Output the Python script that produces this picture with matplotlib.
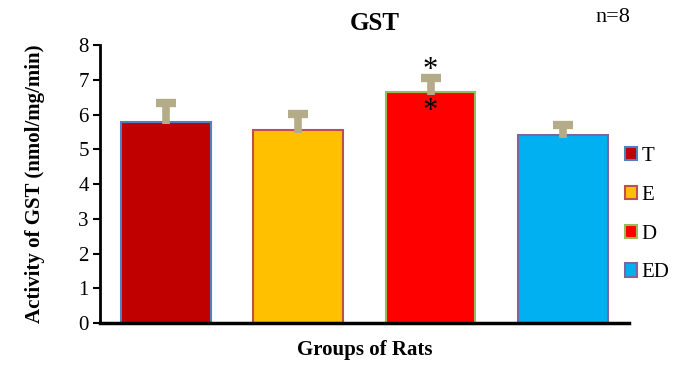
import numpy as np
import matplotlib.pyplot as plt

plt.rcParams['font.family'] = ['Liberation Serif', 'DejaVu Serif']

# GST activity per group (mean, upper SE)
groups = ['T', 'E', 'D', 'ED']
gst = [5.8, 5.55, 6.65, 5.4]
err = [0.53, 0.46, 0.40, 0.30]
fills = ['#C00000', '#FFC000', '#FF0000', '#00B0F0']
edges = ['#4F81BD', '#C0504D', '#9BBB59', '#8064A2']

fig = plt.figure(figsize=(6.85, 3.67), dpi=100)
ax = fig.add_axes([0.146, 0.12, 0.772, 0.757])

x = np.arange(len(groups))
tops = np.array(gst) + np.array(err)
bars = ax.bar(x, gst, width=0.68, color=fills, edgecolor=edges, linewidth=1.5,
              label=groups, zorder=2)
# upper error bars only
ax.vlines(x, np.array(gst) - 0.08, tops, colors='#B4AC88', linewidth=5.5, zorder=3)
ax.plot(x, tops, ls='none', marker='_', ms=14, mew=6, color='#B4AC88', zorder=3)

# significance marks on D
ax.text(x[2], tops[2] + 0.22, '*', ha='center', va='center', fontsize=22)
ax.text(x[2], gst[2] - 0.55, '*', ha='center', va='center', fontsize=22)

ax.set_xlim(-0.5, len(groups) - 0.5)
ax.set_ylim(0, 8)
ax.set_yticks(range(0, 9))
ax.set_xticks([])
ax.tick_params(axis='y', labelsize=15, width=1.5, length=5, direction='out', pad=3)
for s in ['top', 'right']:
    ax.spines[s].set_visible(False)
ax.spines['left'].set_linewidth(2)
ax.spines['bottom'].set_linewidth(2.5)

ax.set_ylabel('Activity of GST (nmol/mg/min)', fontsize=15, fontweight='bold', labelpad=24)
ax.set_xlabel('Groups of Rats', fontsize=15, fontweight='bold', labelpad=12)
fig.text(375 / 685, 1 - 23 / 367, 'GST', ha='center', va='center',
         fontsize=18, fontweight='bold')
fig.text(613 / 685, 1 - 18 / 367, 'n=8', ha='center', va='center', fontsize=16)

ax.legend(bars, groups, loc='center left', bbox_to_anchor=(0.965, 0.39), frameon=False,
          fontsize=15, handlelength=0.6, handleheight=0.6, handletextpad=0.2,
          labelspacing=0.95, borderaxespad=0.3)

fig.savefig('out.png', dpi=100)
